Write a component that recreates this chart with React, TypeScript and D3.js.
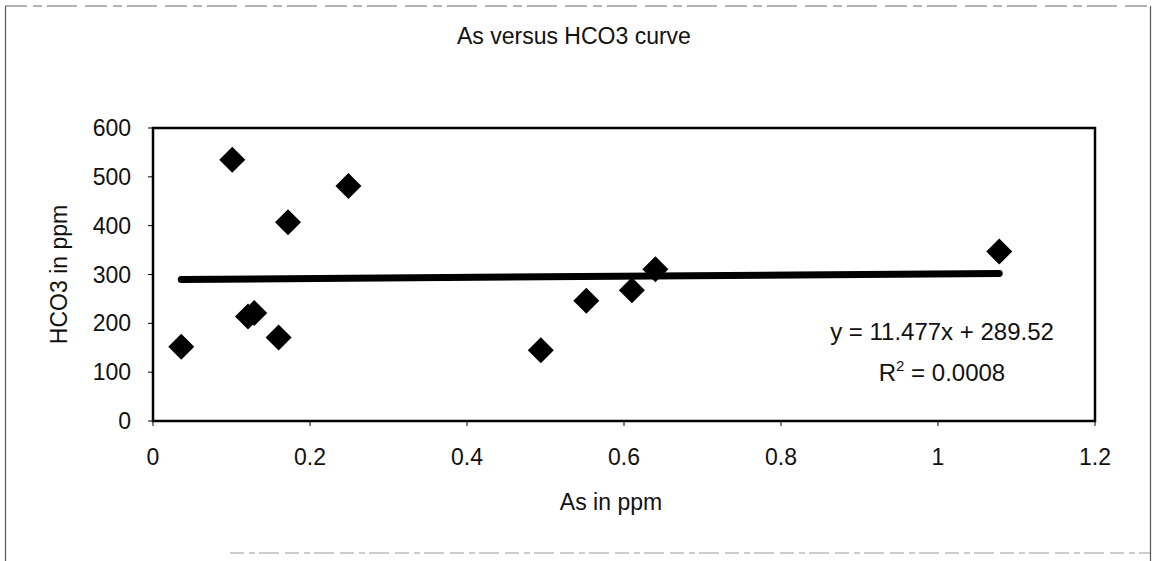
import React from "react";
import * as d3 from "d3";

const asValues = [0.036, 0.101, 0.121, 0.129, 0.160, 0.172, 0.249, 0.494, 0.552, 0.610, 0.640, 1.078];
const hco3Values = [152, 535, 214, 221, 171, 407, 481, 145, 246, 268, 311, 347];
const xTicks = [0, 0.2, 0.4, 0.6, 0.8, 1, 1.2];
const yTicks = [0, 100, 200, 300, 400, 500, 600];
const trendSlope = 11.477;
const trendIntercept = 289.52;
const titleText = "As versus HCO3 curve";
const xTitle = "As in ppm";
const yTitle = "HCO3 in ppm";
const equationText = "y = 11.477x + 289.52";
const r2Value = "0.0008";

const W = 1157;
const H = 561;
const FONT = "'Liberation Sans', Arial, sans-serif";

export default function App() {
  const plot = { left: 153, right: 1095, top: 128, bottom: 421 };
  const x = d3.scaleLinear().domain([0, 1.2]).range([plot.left, plot.right]);
  const y = d3.scaleLinear().domain([0, 600]).range([plot.bottom, plot.top]);
  const diamond = d3.symbol().type(d3.symbolSquare).size(338)() as string;
  const xMin = d3.min(asValues) as number;
  const xMax = d3.max(asValues) as number;
  const trend = d3.line<number>().x((v) => x(v)).y((v) => y(trendSlope * v + trendIntercept));
  const pts = asValues.map((v, i) => ({ x: v, y: hco3Values[i] }));
  const fmt = (v: number) => String(v);

  return (
    <svg
      width={W}
      height={H}
      viewBox={`0 0 ${W} ${H}`}
      style={{ position: "absolute", left: 0, top: 0, background: "#fff", fontFamily: FONT }}
    >
      <rect x={0} y={0} width={W} height={H} fill="#fff" />
      {/* outer scanned frame */}
      <line x1={5.5} y1={6} x2={5.5} y2={H} stroke="#555" strokeWidth={1.2} />
      <line x1={1150.5} y1={6} x2={1150.5} y2={H} stroke="#555" strokeWidth={1.2} />
      <line x1={5} y1={6} x2={1150} y2={6} stroke="#666" strokeWidth={1.2} strokeDasharray="22 6 9 5 30 8" />
      <line x1={230} y1={553} x2={1150} y2={553} stroke="#999" strokeWidth={1} strokeDasharray="14 5 6 4 20 6" />

      {/* title */}
      <text x={457} y={44} fontSize={23} fill="#111">{titleText}</text>

      {/* plot border */}
      <rect
        x={plot.left}
        y={plot.top}
        width={plot.right - plot.left}
        height={plot.bottom - plot.top}
        fill="none"
        stroke="#000"
        strokeWidth={2.5}
      />

      {/* y ticks */}
      {yTicks.map((t) => (
        <g key={"y" + t}>
          <line x1={plot.left - 5} x2={plot.left} y1={y(t)} y2={y(t)} stroke="#000" strokeWidth={1} />
          <text x={131} y={y(t)} dy="0.35em" textAnchor="end" fontSize={23} fill="#111">
            {fmt(t)}
          </text>
        </g>
      ))}

      {/* x ticks */}
      {xTicks.map((t) => (
        <g key={"x" + t}>
          <line x1={x(t)} x2={x(t)} y1={plot.bottom} y2={plot.bottom + 5} stroke="#000" strokeWidth={1} />
          <text x={x(t)} y={465} textAnchor="middle" fontSize={23} fill="#111">
            {fmt(t)}
          </text>
        </g>
      ))}

      {/* axis titles */}
      <text x={611} y={510} textAnchor="middle" fontSize={23} fill="#111">{xTitle}</text>
      <text
        transform={`translate(67, ${(plot.top + plot.bottom) / 2}) rotate(-90)`}
        textAnchor="middle"
        fontSize={23}
        fill="#111"
      >
        {yTitle}
      </text>

      {/* trend line */}
      <path d={trend([xMin, xMax]) as string} fill="none" stroke="#000" strokeWidth={7} strokeLinecap="round" />

      {/* points */}
      {pts.map((p, i) => (
        <path key={i} d={diamond} transform={`translate(${x(p.x)}, ${y(p.y)}) rotate(45)`} fill="#000" />
      ))}

      {/* equation */}
      <text x={942} y={340} textAnchor="middle" fontSize={24} fill="#111">{equationText}</text>
      <text x={942} y={381} textAnchor="middle" fontSize={24} fill="#111">
        R<tspan fontSize={15} dy={-10}>2</tspan>
        <tspan dy={10}>{" = " + r2Value}</tspan>
      </text>
    </svg>
  );
}
